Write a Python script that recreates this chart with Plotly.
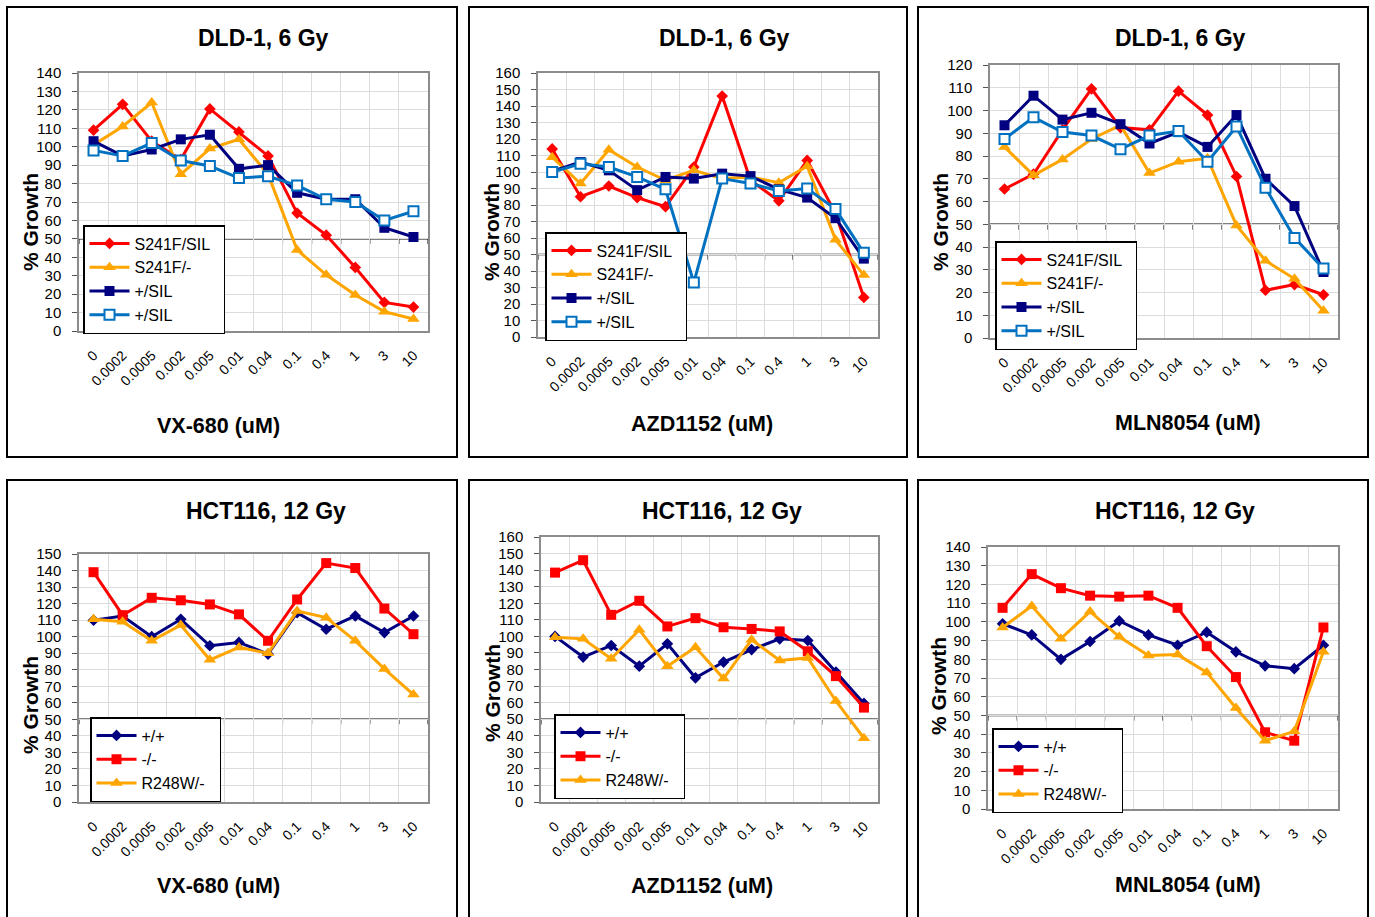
import plotly.graph_objects as go

W, H = 1375, 917
FONT = "Arial, 'Liberation Sans', sans-serif"

doses = ["0", "0.0002", "0.0005", "0.002", "0.005", "0.01", "0.04", "0.1", "0.4", "1", "3", "10"]

# DLD-1, 6 Gy
dld_labels = ["S241F/SIL", "S241F/-", "+/SIL", "+/SIL"]
dld_vx_s241f_sil = [109, 123, 103, 93, 120.5, 108, 95, 64, 52, 34.5, 15.5, 13]
dld_vx_s241f_neg = [101, 111, 124, 85, 99, 104, 85, 44, 30.5, 19.5, 10.5, 6.5]
dld_vx_wt_sil = [103, 95, 98.5, 104, 106.5, 88, 90, 75, 71.5, 71.5, 56, 51]
dld_vx_wt_sil_b = [98, 95, 102, 92.5, 89.5, 83, 84, 79, 71.5, 70, 60, 65]

dld_azd_s241f_sil = [114, 85, 91.5, 84.5, 79, 103, 146, 95, 82.5, 107, 75, 24]
dld_azd_s241f_neg = [109, 93, 113.5, 103, 95, 101, 96, 97, 93.5, 103.5, 59, 37.5]
dld_azd_wt_sil = [100.5, 106, 101, 89, 97, 96, 99, 97.5, 89.5, 84.5, 72, 47.5]
dld_azd_wt_sil_b = [100, 105, 103, 97, 89.5, 33, 96, 93, 88.5, 90, 77.5, 51]

dld_mln_s241f_sil = [65.5, 72, 91.5, 109.5, 92.5, 91.5, 108.5, 98, 71, 21, 23.5, 19]
dld_mln_s241f_neg = [84, 71.5, 78.5, 87.5, 93.5, 72.5, 77.5, 79, 49.5, 34, 26, 12]
dld_mln_wt_sil = [93.5, 106.5, 96, 99, 94, 85.5, 90.5, 84, 98, 70, 58, 29]
dld_mln_wt_sil_b = [87.5, 97, 90.5, 89, 83, 89, 91, 77.5, 93, 66, 44, 30.5]

# HCT116, 12 Gy
hct_labels = ["+/+", "-/-", "R248W/-"]
hct_vx_wt = [110, 112.5, 100, 110.5, 94.5, 96.5, 89.5, 114.5, 104.5, 112.5, 102.5, 112.5]
hct_vx_ko = [139, 113, 123.5, 122, 119.5, 113.5, 97.5, 122.5, 144.5, 141.5, 117, 101.5]
hct_vx_r248w = [110.5, 109, 97.5, 107, 86, 93.5, 90, 115.5, 111.5, 97.5, 80.5, 65]

hct_azd_wt = [100, 87.5, 94.5, 82, 95.5, 75, 84.5, 92, 98.5, 97.5, 78.5, 59.5]
hct_azd_ko = [138.5, 146, 113, 121.5, 106, 111, 105.5, 104.5, 103, 91, 76, 57]
hct_azd_r248w = [99.5, 98.5, 86.5, 104, 82, 93.5, 74.5, 98, 85.5, 87, 61, 38.5]

hct_mln_wt = [99, 93, 80, 89.5, 100.5, 93, 87.5, 94.5, 84, 76.5, 75, 87.5]
hct_mln_ko = [107.5, 125.5, 118, 114, 113.5, 114, 107.5, 87, 70.5, 41, 36.5, 97]
hct_mln_r248w = [97, 108.5, 91, 105.5, 92, 82, 82.5, 73, 54, 36.5, 41.5, 84]

panel_titles = ["DLD-1, 6 Gy"] * 3 + ["HCT116, 12 Gy"] * 3
drug_titles = ["VX-680 (uM)", "AZD1152 (uM)", "MLN8054 (uM)", "VX-680 (uM)", "AZD1152 (uM)", "MNL8054 (uM)"]
y_max = [140, 160, 120, 150, 160, 140]

RED, ORANGE, NAVY, BLUE = "#FF0000", "#FFA500", "#000080", "#0070C0"

# layout geometry (pixels)
plot_px = [  # x0, x1, ytop, ybottom
    (79, 428, 73, 331),
    (538, 878, 73, 337),
    (990, 1338, 65, 338),
    (79, 428, 554, 802),
    (541, 878, 537, 802),
    (988, 1338, 547, 809),
]
panel_px = [(7, 7, 457, 457), (469, 7, 907, 457), (918, 7, 1368, 457),
            (7, 480, 457, 925), (469, 480, 907, 925), (918, 480, 1368, 925)]
title_px = [(263, 38), (724, 38), (1180, 38), (266, 511), (722, 511), (1175, 511)]
xtitle_px = [(218, 426), (702, 424), (1188, 423), (218, 886), (702, 886), (1188, 885)]
ytitle_px = [(30, 222), (491, 232), (940, 222), (30, 705), (492, 693), (938, 686)]
legend_px = [(83, 225), (545, 232), (995, 241), (90, 717), (554, 714), (992, 728)]


def px(x):
    return x / W


def py(y):
    return 1 - y / H


fig = go.Figure()

dld_sets = [
    [dld_vx_s241f_sil, dld_vx_s241f_neg, dld_vx_wt_sil, dld_vx_wt_sil_b],
    [dld_azd_s241f_sil, dld_azd_s241f_neg, dld_azd_wt_sil, dld_azd_wt_sil_b],
    [dld_mln_s241f_sil, dld_mln_s241f_neg, dld_mln_wt_sil, dld_mln_wt_sil_b],
]
hct_sets = [
    [hct_vx_wt, hct_vx_ko, hct_vx_r248w],
    [hct_azd_wt, hct_azd_ko, hct_azd_r248w],
    [hct_mln_wt, hct_mln_ko, hct_mln_r248w],
]

dld_styles = [
    dict(color=RED, marker=dict(symbol="diamond", size=9, color=RED)),
    dict(color=ORANGE, marker=dict(symbol="triangle-up", size=11, color=ORANGE)),
    dict(color=NAVY, marker=dict(symbol="square", size=10, color=NAVY)),
    dict(color=BLUE, marker=dict(symbol="square", size=10, color="white", line=dict(color=BLUE, width=2))),
]
hct_styles = [
    dict(color=NAVY, marker=dict(symbol="diamond", size=9, color=NAVY)),
    dict(color=RED, marker=dict(symbol="square", size=10, color=RED)),
    dict(color=ORANGE, marker=dict(symbol="triangle-up", size=11, color=ORANGE)),
]

for p in range(6):
    axn = "" if p == 0 else str(p + 1)
    lg = "legend" if p == 0 else f"legend{p + 1}"
    if p < 3:
        sets, labels, styles = dld_sets[p], dld_labels, dld_styles
    else:
        sets, labels, styles = hct_sets[p - 3], hct_labels, hct_styles
    for i, (vals, lab, st) in enumerate(zip(sets, labels, styles)):
        fig.add_trace(go.Scatter(
            x=doses, y=vals, name=lab + "  ", mode="lines+markers",
            line=dict(color=st["color"], width=3),
            marker=st["marker"],
            xaxis="x" + axn, yaxis="y" + axn, legend=lg,
            legendgroup=f"p{p}_{i}",
        ))

    x0, x1, yt, yb = plot_px[p]
    fig.layout["xaxis" + axn] = dict(
        domain=[px(x0), px(x1)], anchor="y" + axn, type="category",
        categoryorder="array", categoryarray=doses, range=[-0.5, 11.5],
        tickson="boundaries", showgrid=True, gridcolor="#DCDCDC", gridwidth=1,
        showline=True, linecolor="#8C8C8C", linewidth=1.5, mirror=True, ticks="",
        tickangle=-45, tickfont=dict(family=FONT, size=14, color="black"),
        ticklabelstandoff=9, zeroline=False, fixedrange=True, automargin=False,
    )
    fig.layout["yaxis" + axn] = dict(
        domain=[py(yb), py(yt)], anchor="x" + axn, range=[0, y_max[p]], dtick=10,
        showgrid=True, gridcolor="#DCDCDC", gridwidth=1,
        showline=True, linecolor="#8C8C8C", linewidth=1.5, mirror=True,
        ticks="outside", ticklen=5, tickcolor="#555555",
        tickfont=dict(family=FONT, size=15, color="black"),
        ticklabelstandoff=8, zeroline=False, fixedrange=True, automargin=False,
    )
    # 50% reference line (category axis crossing)
    fig.add_shape(type="line", xref="x" + axn + " domain", yref="y" + axn,
                  x0=0, x1=1, y0=50, y1=50, line=dict(color="black", width=1.5), layer="below")
    for b in range(len(doses) + 1):
        fig.add_shape(type="line", xref="x" + axn, yref="y" + axn,
                      x0=b - 0.5, x1=b - 0.5, y0=50, y1=50 - y_max[p] * 0.02,
                      line=dict(color="black", width=1), layer="below")

    # panel frame
    a, b_, c, d = panel_px[p]
    fig.add_shape(type="rect", xref="paper", yref="paper",
                  x0=px(a), x1=px(c), y0=py(d), y1=py(b_),
                  line=dict(color="black", width=2), fillcolor="rgba(0,0,0,0)")

    tx, ty = title_px[p]
    fig.add_annotation(text=panel_titles[p], x=px(tx), y=py(ty), xref="paper", yref="paper",
                       showarrow=False, xanchor="center", yanchor="middle",
                       font=dict(family=FONT, size=23, color="black", weight="bold"))
    tx, ty = xtitle_px[p]
    fig.add_annotation(text=drug_titles[p], x=px(tx), y=py(ty), xref="paper", yref="paper",
                       showarrow=False, xanchor="center", yanchor="middle",
                       font=dict(family=FONT, size=21.5, color="black", weight="bold"))
    tx, ty = ytitle_px[p]
    fig.add_annotation(text="% Growth", x=px(tx), y=py(ty), xref="paper", yref="paper",
                       showarrow=False, xanchor="center", yanchor="middle", textangle=-90,
                       font=dict(family=FONT, size=21, color="black", weight="bold"))

    lx, ly = legend_px[p]
    fig.layout[lg] = dict(
        x=px(lx), y=py(ly), xanchor="left", yanchor="top", xref="paper", yref="paper",
        bgcolor="white", bordercolor="black", borderwidth=1.5,
        font=dict(family=FONT, size=16, color="black"),
        tracegroupgap=0, itemwidth=40,
    )

fig.update_layout(
    width=W, height=H, margin=dict(l=0, r=0, t=0, b=0, pad=0, autoexpand=False),
    paper_bgcolor="white", plot_bgcolor="white", showlegend=True,
)

fig.write_html(
    "out.html",
    config={"displayModeBar": False},
    post_script=(
        "document.documentElement.style.margin='0';"
        "document.body.style.margin='0';document.body.style.padding='0';"
        "var d=document.getElementById('{plot_id}');"
        "d.style.position='absolute';d.style.left='0px';d.style.top='0px';"
        "window.scrollTo(0,0);"
    ),
)
